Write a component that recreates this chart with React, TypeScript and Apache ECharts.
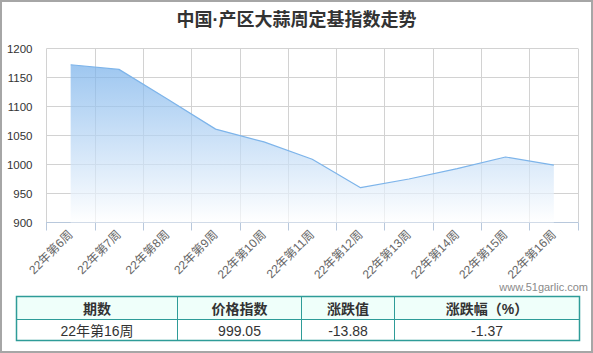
import React, { useEffect, useRef } from "react";
import * as echarts from "echarts";

const titleText = "中国·产区大蒜周定基指数走势";
const categories = [
  "22年第6周", "22年第7周", "22年第8周", "22年第9周", "22年第10周", "22年第11周",
  "22年第12周", "22年第13周", "22年第14周", "22年第15周", "22年第16周",
];
const indexValues = [1172, 1164, 1113, 1061, 1039, 1009, 960, 975, 993, 1012.93, 999.05];
const yMin = 900;
const yMax = 1200;
const yInterval = 50;
const tableHeaders = ["期数", "价格指数", "涨跌值", "涨跌幅（%）"];
const tableRow = ["22年第16周", "999.05", "-13.88", "-1.37"];
const watermark = "www.51garlic.com";

const FONT = "'Liberation Sans', 'Noto Sans CJK SC', sans-serif";

export default function App() {
  const ref = useRef<HTMLDivElement>(null);
  useEffect(() => {
    if (!ref.current) return;
    const chart = echarts.init(ref.current, undefined, { renderer: "svg" });

    const colX = [16.5, 177.5, 301.5, 394.5, 579.5];
    const tTop = 296.5, tMid = 319.5, tBot = 340.5;
    const graphics: any[] = [];
    graphics.push({
      type: "rect",
      shape: { x: 1, y: 1, width: 591, height: 351 },
      style: { fill: "none", stroke: "#a6a6a6", lineWidth: 2 },
      z: 100,
    });
    graphics.push({
      type: "rect",
      shape: { x: colX[0], y: tTop, width: colX[4] - colX[0], height: tMid - tTop },
      style: { fill: "#effffa" },
    });
    graphics.push({
      type: "rect",
      shape: { x: colX[0], y: tTop, width: colX[4] - colX[0], height: tBot - tTop },
      style: { fill: "none", stroke: "#2e9c98", lineWidth: 1.5 },
      z: 10,
    });
    graphics.push({
      type: "line",
      shape: { x1: colX[0], y1: tMid, x2: colX[4], y2: tMid },
      style: { stroke: "#2e9c98", lineWidth: 1 },
      z: 10,
    });
    for (let i = 1; i < 4; i++) {
      graphics.push({
        type: "line",
        shape: { x1: colX[i], y1: tTop, x2: colX[i], y2: tBot },
        style: { stroke: "#2e9c98", lineWidth: 1 },
        z: 10,
      });
    }
    tableHeaders.forEach((h, i) => {
      graphics.push({
        type: "text",
        x: (colX[i] + colX[i + 1]) / 2,
        y: (tTop + tMid) / 2 + 0.5,
        style: {
          text: h, fill: "#333", font: `bold 14px ${FONT}`,
          textAlign: "center", textVerticalAlign: "middle",
        },
        z: 11,
      });
    });
    tableRow.forEach((h, i) => {
      graphics.push({
        type: "text",
        x: (colX[i] + colX[i + 1]) / 2,
        y: (tMid + tBot) / 2 + 0.5,
        style: {
          text: h, fill: "#333", font: `14px ${FONT}`,
          textAlign: "center", textVerticalAlign: "middle",
        },
        z: 11,
      });
    });
    graphics.push({
      type: "text",
      x: 588,
      y: 287,
      style: {
        text: watermark, fill: "#8a8a8a", font: `11px ${FONT}`,
        textAlign: "right", textVerticalAlign: "middle",
      },
    });

    chart.setOption({
      animation: false,
      backgroundColor: "#fff",
      title: {
        text: titleText,
        left: "center",
        top: 6,
        textStyle: { fontSize: 18, fontWeight: "bold", color: "#333", fontFamily: FONT },
      },
      grid: { left: 46.5, right: 15, top: 48.5, bottom: 130.5, containLabel: false },
      xAxis: {
        type: "category",
        data: categories,
        boundaryGap: true,
        axisLine: { show: true, lineStyle: { color: "#b8c8dc", width: 1 } },
        axisTick: { show: true, length: 8, lineStyle: { color: "#b8c8dc" } },
        splitLine: { show: true, lineStyle: { color: "#d2d2d2", width: 1 } },
        axisLabel: {
          rotate: 45, fontSize: 12, color: "#666", margin: 10, fontFamily: FONT, interval: 0,
        },
      },
      yAxis: {
        type: "value",
        min: yMin,
        max: yMax,
        interval: yInterval,
        axisLine: { show: false },
        axisTick: { show: false },
        splitLine: { show: true, lineStyle: { color: "#d2d2d2", width: 1 } },
        axisLabel: {
          fontSize: 11.5, color: "#333", margin: 14, fontFamily: FONT,
          formatter: (v: number) => String(v),
        },
      },
      series: [
        {
          type: "line",
          data: indexValues,
          symbol: "none",
          lineStyle: { color: "#7db4ea", width: 1.2 },
          areaStyle: {
            color: new echarts.graphic.LinearGradient(0, 0, 0, 1, [
              { offset: 0, color: "rgba(117,175,234,1)" },
              { offset: 1, color: "rgba(255,255,255,1)" },
            ]),
          },
        },
      ],
      graphic: graphics,
    });
    return () => chart.dispose();
  }, []);
  return (
    <div
      ref={ref}
      style={{ position: "fixed", left: 0, top: 0, width: 593, height: 353 }}
    />
  );
}
